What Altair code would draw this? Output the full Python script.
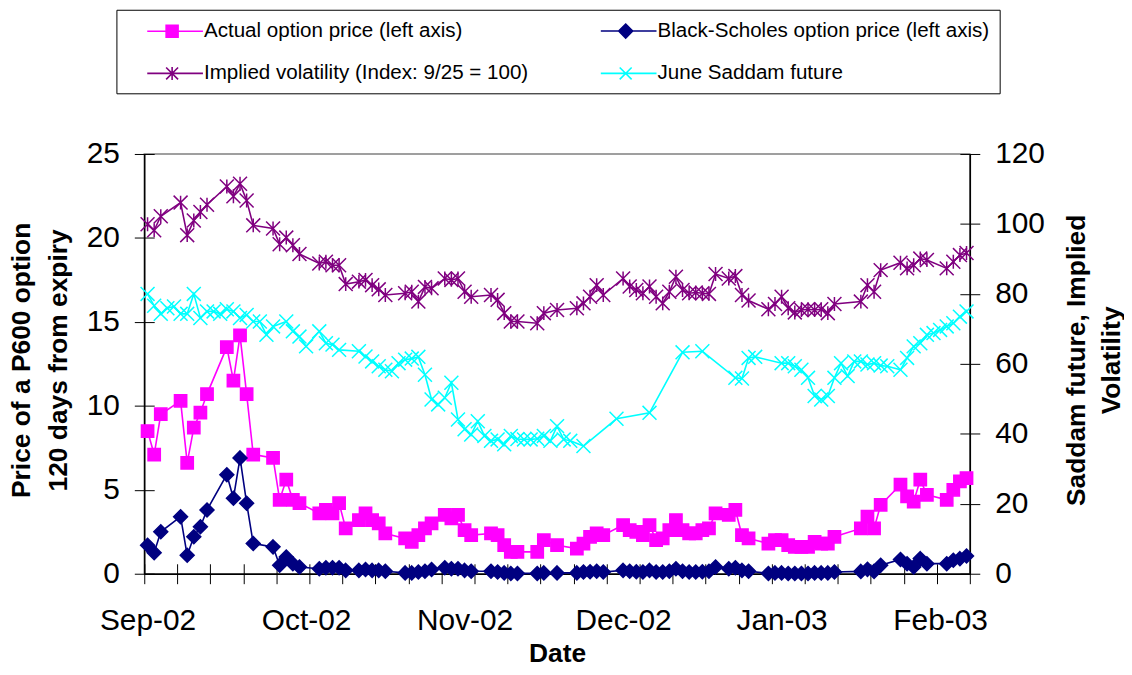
import altair as alt
import pandas as pd

# ---------------- data ----------------
series_names = [
    "Actual option price (left axis)",
    "Black-Scholes option price (left axis)",
    "Implied volatility (Index: 9/25 = 100)",
    "June Saddam future",
]
series_colors = ["#FF00FF", "#000080", "#800080", "#00FFFF"]

# category position (day number from 25 Sep 2002) of every option quote
option_days = [0, 1, 2, 5, 6, 7, 8, 9, 12, 13, 14, 15, 16, 19, 20, 21, 22, 23,
               26, 27, 28, 29, 30, 32, 33, 34, 35, 36, 39, 40, 41, 42, 43,
               45, 46, 47, 48, 49, 52, 53, 54, 55, 56, 59, 60, 62,
               65, 66, 67, 68, 69, 72, 73, 74, 75, 76, 77, 78, 79, 80, 81, 82,
               83, 84, 85, 86, 88, 89, 90, 91, 94, 95, 96, 97, 98, 99, 100,
               101, 102, 103, 104, 108, 109, 110, 111, 114, 115, 116, 117, 118,
               121, 122, 123, 124]

actual_price = [8.5, 7.1, 9.5,
                10.3, 6.6, 8.7, 9.6, 10.7,
                13.5, 11.5, 14.2, 10.7, 7.1,
                6.9, 4.4, 5.6, 4.4, 4.2,
                3.6, 3.8, 3.6, 4.2, 2.7,
                3.2, 3.6, 3.2, 3.0, 2.4,
                2.1, 1.9, 2.3, 2.7, 3.0,
                3.5, 3.3, 3.5, 2.6, 2.3,
                2.4, 2.3, 1.7, 1.3, 1.3,
                1.3, 2.0, 1.7,
                1.5, 1.8, 2.2, 2.4, 2.3,
                2.9, 2.6, 2.5, 2.3, 2.9, 2.0, 2.1, 2.6, 3.2, 2.6, 2.4, 2.4, 2.6, 2.7, 3.6,
                3.5, 3.8, 2.3, 2.1,
                1.8, 2.0, 2.0, 1.7, 1.6, 1.6, 1.6, 1.9, 1.8, 1.8, 2.2,
                2.7, 3.4, 2.7, 4.1,
                5.3, 4.6, 4.3, 5.6, 4.7,
                4.4, 5.0, 5.5, 5.7]

black_scholes = [1.7, 1.25, 2.5,
                 3.4, 1.1, 2.2, 2.8, 3.8,
                 5.9, 4.5, 6.9, 4.2, 1.8,
                 1.6, 0.5, 1.0, 0.6, 0.4,
                 0.3, 0.35, 0.35, 0.35, 0.2,
                 0.2, 0.25, 0.2, 0.2, 0.15,
                 0.05, 0.05, 0.1, 0.15, 0.25,
                 0.35, 0.3, 0.3, 0.2, 0.15,
                 0.15, 0.1, 0.05, 0.02, 0.02,
                 0.02, 0.05, 0.05,
                 0.05, 0.1, 0.12, 0.15, 0.1,
                 0.2, 0.15, 0.12, 0.1, 0.2, 0.1, 0.1, 0.15, 0.3, 0.15, 0.1, 0.1, 0.12, 0.15, 0.4,
                 0.3, 0.35, 0.2, 0.15,
                 0.02, 0.05, 0.05, 0.02, 0.02, 0.02, 0.02, 0.05, 0.05, 0.05, 0.1,
                 0.14, 0.26, 0.14, 0.5,
                 0.85, 0.6, 0.4, 0.9, 0.6,
                 0.6, 0.8, 0.9, 1.05]

implied_vol = [99.9, 98.2, 102.2,
               106.1, 96.8, 101.0, 103.4, 105.5,
               110.7, 107.9, 111.5, 106.7, 99.6,
               98.7, 94.2, 96.1, 93.9, 91.4,
               88.7, 89.2, 88.2, 88.2, 82.8,
               83.5, 84.0, 82.5, 81.3, 79.7,
               80.2, 80.6, 77.8, 82.0, 81.6,
               84.4, 84.0, 84.4, 80.6, 79.2,
               79.7, 78.3, 74.5, 72.1, 72.1,
               71.6, 74.5, 75.4,
               75.9, 77.3, 79.2, 82.5, 79.7,
               84.4, 82.1, 81.1, 80.2, 82.1, 79.2, 77.3, 80.6, 84.9, 81.1, 80.2, 80.4, 80.2, 80.0, 85.7,
               84.4, 85.1, 79.7, 78.1,
               75.6, 77.1, 79.2, 75.9, 74.7, 75.4, 75.6, 75.4, 75.6, 74.5, 77.1,
               77.8, 82.5, 80.6, 86.8,
               88.9, 87.3, 88.2, 90.1, 89.7,
               87.3, 89.2, 91.1, 91.7]

future_days = [0, 1, 2, 3, 4, 5, 6, 7, 8, 9, 10, 11, 12, 13, 14, 15, 16, 17, 18, 19,
               21, 22, 23, 24, 26, 27, 28, 29, 32, 33, 34, 35, 36, 37, 38, 39, 40,
               41, 42, 43, 44, 45, 46, 47, 48, 49, 50, 51, 52, 53, 54, 55, 56, 57,
               58, 59, 60, 61, 62, 63, 64, 66, 71, 76, 81, 84, 89, 90, 91, 92,
               96, 97, 98, 99, 100, 101, 102, 103, 104, 105, 106, 107, 108, 109,
               110, 111, 112, 114, 115, 116, 117, 118, 119, 120, 121, 122, 123, 124]

saddam_future = [80.0, 76.6, 74.3, 75.9, 76.4, 74.3, 74.3, 80.0, 73.1, 75.0, 75.0, 74.3,
                 75.6, 75.0, 73.1, 74.0, 72.1, 72.1, 68.3, 70.7,
                 72.1, 69.3, 67.8, 65.0, 69.3, 65.9, 65.5, 64.0, 63.6, 62.1, 60.7, 59.3,
                 58.3, 57.9, 60.2, 61.2, 61.5,
                 62.0, 56.9, 49.8, 48.4, 50.3, 54.6, 44.1, 41.3, 39.8, 43.6, 39.4, 38.0,
                 38.4, 37.0, 39.4, 38.5, 38.4,
                 38.4, 38.6, 39.4, 38.0, 42.2, 38.4, 38.0, 36.5, 44.3, 46.0, 63.3, 63.6,
                 56.0, 55.8, 61.7, 62.0,
                 60.2, 60.2, 59.3, 58.3, 56.0, 50.8, 49.8, 50.8, 56.0, 60.2, 56.5, 60.7,
                 60.7, 59.8,
                 60.2, 59.5, 59.3, 58.3, 61.7, 65.0, 65.9, 68.3, 68.8, 69.7, 70.7, 71.6,
                 73.5, 75.0]

tick_label_days = [0, 24, 48, 72, 96, 120]
tick_label_text = ["Sep-02", "Oct-02", "Nov-02", "Dec-02", "Jan-03", "Feb-03"]
left_ticks = [0, 5, 10, 15, 20, 25]
right_ticks = [0, 20, 40, 60, 80, 100, 120]

# ---------------- tables ----------------
left_df = pd.DataFrame({
    "day": option_days + option_days,
    "series": [series_names[0]] * len(option_days) + [series_names[1]] * len(option_days),
    "value": actual_price + black_scholes,
})
right_df = pd.DataFrame({
    "day": option_days + future_days,
    "series": [series_names[2]] * len(option_days) + [series_names[3]] * len(future_days),
    "value": implied_vol + saddam_future,
})

# ---------------- styles ----------------
FONT = "Liberation Sans"
TICK_FS = 30
TITLE_FS = 26.5
marker_paths = [
    "M-0.88,-0.88H0.88V0.88H-0.88Z",
    "M0,-1L1,0L0,1L-1,0Z",
    "M-1,-1L1,1M-1,1L1,-1M0,-1V1",
    "M-1,-1L1,1M-1,1L1,-1",
]
legend_paths = [
    "M-2.5,0H3.1M-0.6,-0.6H0.6V0.6H-0.6Z",
    "M-2.5,0H3.1M0,-0.7L0.7,0L0,0.7L-0.7,0Z",
    "M-2.5,0H3.1M-0.6,-0.6L0.6,0.6M-0.6,0.6L0.6,-0.6M0,-0.65V0.65",
    "M-2.5,0H3.1M-0.6,-0.6L0.6,0.6M-0.6,0.6L0.6,-0.6",
]
shape_expr = "[" + ",".join("'%s'" % p for p in legend_paths) + "][datum.index]"
color_expr = "[" + ",".join("'%s'" % c for c in series_colors) + "][datum.index]"
label_expr = ("[" + ",".join("'%s'" % t for t in tick_label_text) + "][indexof(["
              + ",".join(str(d) for d in tick_label_days) + "], datum.value)]")

legend = alt.Legend(
    orient="none", legendX=-28, legendY=-145, columns=2, direction="horizontal", title=None,
    padding=10, strokeColor="black", fillColor="white",
    symbolType={"expr": shape_expr}, symbolStrokeColor={"expr": color_expr},
    symbolSize=400, symbolStrokeWidth=1.6, symbolOffset=35, labelOffset=21,
    symbolOpacity=1,
    labelFont=FONT, labelFontSize=20.7, labelColor="black", labelLimit=800,
    columnPadding=52, rowPadding=21,
)

# the stroke / shape scales list the series in reverse order so that they are
# not merged with (and do not switch off) the colour legend
rev_names = series_names[::-1]
color_enc = alt.Color("series:N", scale=alt.Scale(domain=series_names, range=series_colors), legend=legend)
stroke_enc = alt.Stroke("series:N", scale=alt.Scale(domain=rev_names, range=series_colors[::-1]), legend=None)
shape_enc = alt.Shape("series:N", scale=alt.Scale(domain=rev_names, range=marker_paths[::-1]), legend=None)

x_scale = alt.Scale(domain=[-0.5, 124.5], nice=False, zero=False)
tick_values = [-0.5 + 5 * k for k in range(26)]

x_tick_axis = alt.Axis(orient="bottom", values=tick_values, labels=False, ticks=True,
                       tickSize=20, offset=-10, tickColor="black", tickWidth=1,
                       domain=False, grid=False, title=None)
x_label_axis = alt.Axis(
    orient="bottom", values=tick_label_days, labelExpr=label_expr, ticks=False, tickSize=0,
    domain=True, domainColor="black", domainWidth=1.5, grid=False,
    labelFont=FONT, labelFontSize=TICK_FS, labelColor="black", labelPadding=56,
    labelBaseline="alphabetic", labelFlush=False, labelOverlap=False,
    title="Date", titleFont=FONT, titleFontSize=TITLE_FS, titleFontWeight="bold",
    titleColor="black", titleY=88, titleBaseline="alphabetic")

def y_tick_axis(orient, values):
    return alt.Axis(orient=orient, values=values, labels=False, ticks=True, tickSize=20,
                    offset=-10, tickColor="black", tickWidth=1, domain=False, grid=False,
                    title=None)

y_left_label_axis = alt.Axis(
    orient="left", values=left_ticks, ticks=False, tickSize=0, domain=True,
    domainColor="black", domainWidth=1.5, grid=False, labelFont=FONT,
    labelFontSize=TICK_FS, labelColor="black", labelPadding=25,
    title=["Price of a P600 option", "120 days from expiry"],
    titleFont=FONT, titleFontSize=TITLE_FS, titleFontWeight="bold", titleColor="black",
    titleAngle=270, titleX=-123, titleY=207, titleAlign="center",
    titleBaseline="middle", titleLineHeight=37)

y_right_label_axis = alt.Axis(
    orient="right", values=right_ticks, ticks=False, tickSize=0, domain=True,
    domainColor="black", domainWidth=1.5, grid=False, labelFont=FONT,
    labelFontSize=TICK_FS, labelColor="black", labelPadding=25,
    title=["Saddam future, Implied", "Volatility"],
    titleFont=FONT, titleFontSize=TITLE_FS, titleFontWeight="bold", titleColor="black",
    titleAngle=270, titleX=107, titleY=207, titleAlign="center",
    titleBaseline="middle", titleLineHeight=35)

left_scale = alt.Scale(domain=[0, 25], nice=False)
right_scale = alt.Scale(domain=[0, 120], nice=False)

MARKER_SIZE = 196

left_line = alt.Chart(left_df).mark_line(strokeWidth=1.6).encode(
    x=alt.X("day:Q", scale=x_scale, axis=x_tick_axis),
    y=alt.Y("value:Q", scale=left_scale, axis=y_tick_axis("left", left_ticks)),
    stroke=stroke_enc)
left_pts = alt.Chart(left_df).mark_point(filled=True, size=MARKER_SIZE, strokeWidth=1.5, opacity=1).encode(
    x=alt.X("day:Q", scale=x_scale, axis=None),
    y=alt.Y("value:Q", scale=left_scale, axis=y_left_label_axis),
    color=color_enc, stroke=stroke_enc, shape=shape_enc)
right_line = alt.Chart(right_df).mark_line(strokeWidth=1.6).encode(
    x=alt.X("day:Q", scale=x_scale, axis=None),
    y=alt.Y("value:Q", scale=right_scale, axis=y_tick_axis("right", right_ticks)),
    stroke=stroke_enc)
right_pts = alt.Chart(right_df).mark_point(filled=True, size=MARKER_SIZE, strokeWidth=1.5, opacity=1).encode(
    x=alt.X("day:Q", scale=x_scale, axis=x_label_axis),
    y=alt.Y("value:Q", scale=right_scale, axis=y_right_label_axis),
    color=color_enc, stroke=stroke_enc, shape=shape_enc)

left = alt.layer(left_line, left_pts).resolve_axis(x="independent", y="independent")
right = alt.layer(right_line, right_pts).resolve_axis(x="independent", y="independent")

chart = (
    alt.layer(left, right)
    .resolve_scale(y="independent")
    .resolve_axis(x="independent", y="independent")
    .properties(
        width=830, height=422,
        autosize=alt.AutoSizeParams(type="none"),
        padding={"left": 137, "top": 145, "right": 155, "bottom": 92},
        background="white",
    )
    .configure_view(stroke="#808080", strokeWidth=1.5)
)

chart.save("out.html", embed_options={"renderer": "svg", "actions": False})
